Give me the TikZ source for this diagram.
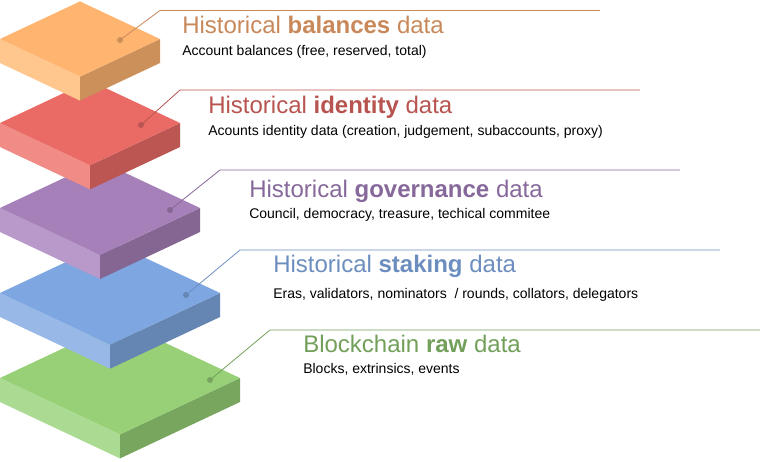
\documentclass[tikz,border=0pt]{standalone}
\usepackage{fontspec}
\setmainfont{Liberation Sans}
\usetikzlibrary{positioning}
\definecolor{BalTop}{HTML}{FFB570}
\definecolor{BalLeft}{HTML}{FFC68E}
\definecolor{BalRight}{HTML}{CC915A}
\definecolor{BalInk}{HTML}{C8885A}
\definecolor{IdTop}{HTML}{EA6B66}
\definecolor{IdLeft}{HTML}{F08B86}
\definecolor{IdRight}{HTML}{BB5652}
\definecolor{IdInk}{HTML}{B85450}
\definecolor{GovTop}{HTML}{A680B8}
\definecolor{GovLeft}{HTML}{B899C9}
\definecolor{GovRight}{HTML}{856693}
\definecolor{GovInk}{HTML}{86689A}
\definecolor{StkTop}{HTML}{7EA6E0}
\definecolor{StkLeft}{HTML}{98B9E8}
\definecolor{StkRight}{HTML}{6585B3}
\definecolor{StkInk}{HTML}{6C8EBF}
\definecolor{RawTop}{HTML}{97D077}
\definecolor{RawLeft}{HTML}{ABDB92}
\definecolor{RawRight}{HTML}{79A65F}
\definecolor{RawInk}{HTML}{72A05A}

% one isometric slab: centre x, left corner y, half width, top, left, right colours
\newcommand{\drawslab}[6]{%
  \pgfmathsetmacro{\slabh}{0.47*#3}
  \fill[#5] (#1-#3,#2) -- (#1,#2+\slabh) -- (#1,#2+\slabh+24) -- (#1-#3,#2+24) -- cycle;
  \fill[#6] (#1,#2+\slabh) -- (#1+#3,#2) -- (#1+#3,#2+24) -- (#1,#2+\slabh+24) -- cycle;
  \fill[#4] (#1-#3,#2) -- (#1,#2-\slabh) -- (#1+#3,#2) -- (#1,#2+\slabh) -- cycle;
}

\begin{document}
\begin{tikzpicture}[
    x=0.75pt,y=-0.75pt,
    dot/.style={circle,fill=#1,inner sep=0pt,minimum size=4.5pt},
    lead/.style={draw=#1,line width=0.6pt},
    title/.style={anchor=base west,inner sep=0pt,text=#1,
                  font=\fontsize{18}{21.6}\selectfont},
    sub/.style={anchor=base west,inner sep=0pt,
                font=\fontsize{10.5}{12.6}\selectfont}
  ]
  \useasboundingbox (0,0) rectangle (762,461);

  % slabs, bottom to top
  \drawslab{120}{378}{120}{RawTop}{RawLeft}{RawRight}
  \drawslab{110}{293}{110}{StkTop}{StkLeft}{StkRight}
  \drawslab{100}{208}{100}{GovTop}{GovLeft}{GovRight}
  \drawslab{90}{123}{90}{IdTop}{IdLeft}{IdRight}
  \drawslab{80}{39}{80}{BalTop}{BalLeft}{BalRight}

  % balances
  \node[dot=BalRight] (dBal) at (120,40) {};
  \coordinate (kBal) at (160,10.5);
  \coordinate (eBal) at (600,10.5);
  \draw[lead=BalInk] (dBal.center) -- (kBal) -- (eBal);
  \node[title=BalInk] (tBal) at (182,33) {Historical \textbf{balances} data};
  \node[sub] (sBal) at (182,55) {Account balances (free, reserved, total)};

  % identity
  \node[dot=IdRight] (dId) at (141,125) {};
  \coordinate (kId) at (180,90);
  \coordinate (eId) at (640,90);
  \draw[lead=IdInk] (dId.center) -- (kId) -- (eId);
  \node[title=IdInk] (tId) at (208,113) {Historical \textbf{identity} data};
  \node[sub] (sId) at (208,135) {Acounts identity data (creation, judgement, subaccounts, proxy)};

  % governance
  \node[dot=GovRight] (dGov) at (170,210) {};
  \coordinate (kGov) at (220,170);
  \coordinate (eGov) at (680,170);
  \draw[lead=GovInk] (dGov.center) -- (kGov) -- (eGov);
  \node[title=GovInk] (tGov) at (249,197) {Historical \textbf{governance} data};
  \node[sub] (sGov) at (249,218) {Council, democracy, treasure, techical commitee};

  % staking
  \node[dot=StkRight] (dStk) at (186,295) {};
  \coordinate (kStk) at (240,250);
  \coordinate (eStk) at (720,250);
  \draw[lead=StkInk] (dStk.center) -- (kStk) -- (eStk);
  \node[title=StkInk] (tStk) at (273,272) {Historical \textbf{staking} data};
  \node[sub] (sStk) at (273,298) {Eras, validators, nominators \ / rounds, collators, delegators};

  % raw
  \node[dot=RawRight] (dRaw) at (210,380) {};
  \coordinate (kRaw) at (270,330);
  \coordinate (eRaw) at (760,330);
  \draw[lead=RawInk] (dRaw.center) -- (kRaw) -- (eRaw);
  \node[title=RawInk] (tRaw) at (303,352) {Blockchain \textbf{raw} data};
  \node[sub] (sRaw) at (303,373) {Blocks, extrinsics, events};
\end{tikzpicture}
\end{document}
